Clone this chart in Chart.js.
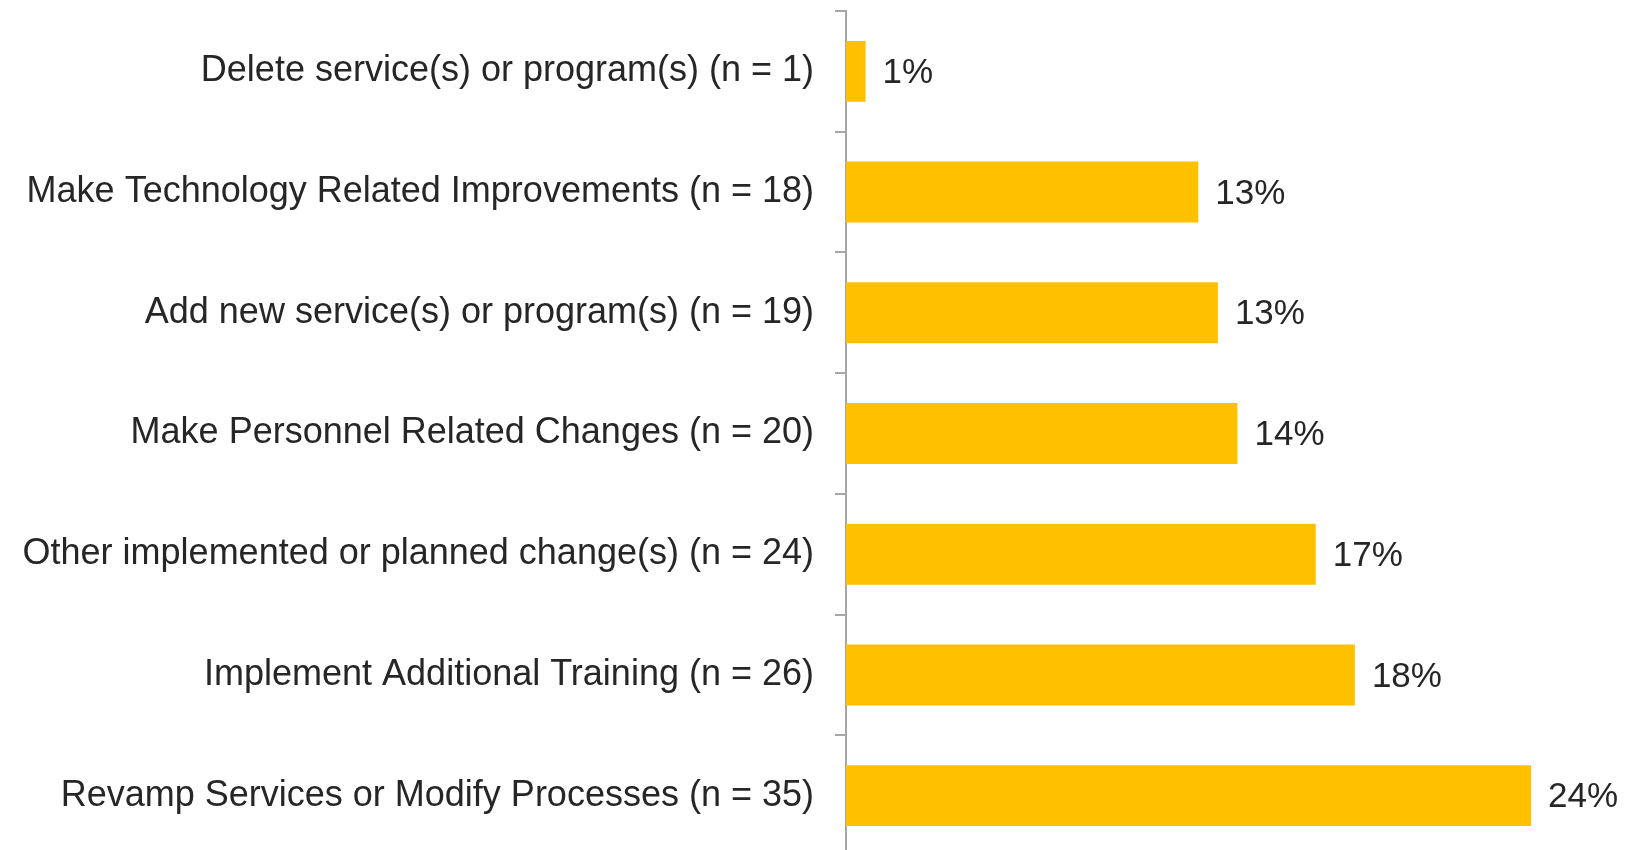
<!DOCTYPE html>
<html>
    <head>
        <meta charset="utf-8">
        <title>Changes</title>
        <script src="https://cdn.jsdelivr.net/npm/chart.js@4.4.1/dist/chart.umd.min.js"></script>
        <style>
            html, body { margin: 0; padding: 0; background: #fff; overflow: hidden; }
            .chart-container { position: relative; width: 1635px; height: 856px; }
        </style>
    </head>
    <body>
        <div class="chart-container">
            <canvas id="barChart"></canvas>
        </div>

        <script>
            // DATA VALUES
            var categories = [
                "Delete service(s) or program(s) (n = 1)",
                "Make Technology Related Improvements (n = 18)",
                "Add new service(s) or program(s) (n = 19)",
                "Make Personnel Related Changes (n = 20)",
                "Other implemented or planned change(s) (n = 24)",
                "Implement Additional Training (n = 26)",
                "Revamp Services or Modify Processes (n = 35)"
            ];

            var percentValues = [0.7, 12.6, 13.3, 14.0, 16.8, 18.2, 24.5];

            var valueLabels = ["1%", "13%", "13%", "14%", "17%", "18%", "24%"];

            var fontName = "'Liberation Sans', Arial, sans-serif";

            // draws the % next to each bar
            const valueLabelPlugin = {
                id: "valueLabels",
                afterDatasetsDraw(chart) {
                    const ctx = chart.ctx;
                    const meta = chart.getDatasetMeta(0);
                    ctx.save();
                    ctx.font = "35px " + fontName;
                    ctx.fillStyle = "#262626";
                    ctx.textAlign = "left";
                    ctx.textBaseline = "middle";
                    meta.data.forEach((bar, i) => {
                        ctx.fillText(valueLabels[i], bar.x + 17, bar.y + 2);
                    });
                    ctx.restore();
                }
            };

            const config = {
                type: "bar",
                data: {
                    labels: categories,
                    datasets: [{
                        data: percentValues,
                        backgroundColor: "#FFC000",
                        barPercentage: 0.505,
                        categoryPercentage: 1
                    }]
                },
                options: {
                    indexAxis: "y",
                    responsive: true,
                    maintainAspectRatio: false,
                    animation: false,
                    layout: {
                        padding: { top: 11, right: 62, bottom: 0, left: 0 }
                    },
                    plugins: {
                        legend: { display: false },
                        tooltip: { enabled: false }
                    },
                    scales: {
                        x: {
                            display: false,
                            min: 0,
                            max: 26
                        },
                        y: {
                            // fixed axis position, no extra room above/below for labels
                            afterFit: (scale) => {
                                scale.width = 846;
                                scale.paddingTop = 0;
                                scale.paddingBottom = 0;
                            },
                            border: { color: "#a6a6a6", width: 2 },
                            grid: {
                                drawOnChartArea: false,
                                tickLength: 11,
                                color: "#a6a6a6",
                                lineWidth: 2
                            },
                            ticks: {
                                padding: 21,
                                color: "#262626",
                                font: { family: fontName, size: 36 }
                            }
                        }
                    }
                },
                plugins: [valueLabelPlugin]
            };

            const barChart = new Chart("barChart", config);
        </script>
    </body>
</html>
